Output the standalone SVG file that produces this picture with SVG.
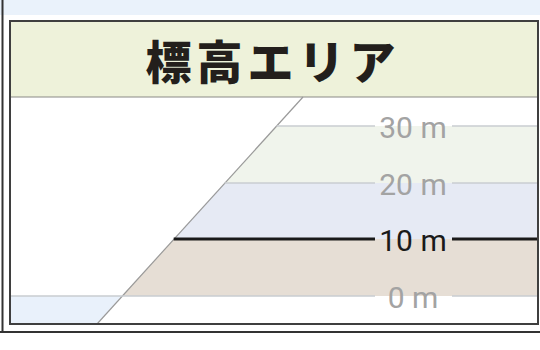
<svg xmlns="http://www.w3.org/2000/svg" width="540" height="350" viewBox="0 0 540 350">
<style>
.lvl{font-family:Roboto,"Noto Sans","DejaVu Sans",sans-serif;font-size:30px;text-anchor:middle;fill:#a3a3a3}
.lvl.main{fill:#1a1a1a}
.thin{stroke:#c9cdd1;stroke-width:1.5;fill:none}
.thick{stroke:#1a1a1a;stroke-width:3;fill:none}
</style>
<rect x="0" y="0" width="540" height="350" fill="#ffffff"/>
<rect x="0" y="0" width="540" height="15" fill="#eaf2fb"/>
<g id="frame">
<line x1="2.5" y1="0" x2="2.5" y2="333" stroke="#333" stroke-width="2"/>
<line x1="0" y1="332" x2="540" y2="332" stroke="#333" stroke-width="2"/>
</g>
<g id="header">
<rect x="10" y="21" width="528" height="76" fill="#eef2da"/>
<line x1="10" y1="97" x2="538" y2="97" stroke="#8a8a86" stroke-width="1.2"/>
<text x="273" y="79" font-family="'Noto Sans CJK JP','Noto Sans',sans-serif" font-size="46" font-weight="900" letter-spacing="5" text-anchor="middle" fill="#231f1c">標高エリア</text>
</g>
<g id="bands">
<polygon points="276.5,126 538,126 538,183 224.6,183" fill="#f0f4ec"/>
<polygon points="224.6,183 538,183 538,239 173.7,239" fill="#e6eaf4"/>
<polygon points="173.7,239 538,239 538,296 121.8,296" fill="#e6ded5"/>
<polygon points="11,296 121.8,296 97,323 11,323" fill="#e9f1fb"/>
</g>
<g id="connectors">
<line x1="303" y1="97" x2="97" y2="324" stroke="#9a9a9a" stroke-width="1.2"/>
<path class="thin" d="M276.5 126H375M452 126H538"/>
<path class="thin" d="M224.6 183H375M452 183H538"/>
<path class="thick" d="M173.7 239H375M452 239H538"/>
<path class="thin" d="M11 296H375M452 296H538"/>
</g>
<g id="level-30"><text class="lvl" x="413" y="138">30 m</text></g>
<g id="level-20"><text class="lvl" x="413" y="195">20 m</text></g>
<g id="level-10"><text class="lvl main" x="413" y="251">10 m</text></g>
<g id="level-0"><text class="lvl" x="413" y="308">0 m</text></g>
<rect x="10" y="21" width="528" height="303" fill="none" stroke="#3f3f3f" stroke-width="2"/>
</svg>
